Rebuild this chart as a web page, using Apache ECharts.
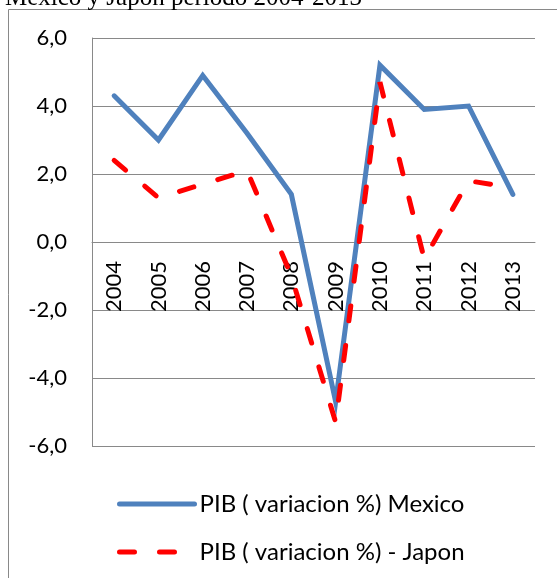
<!DOCTYPE html>
<html>
<head>
<meta charset="utf-8">
<script src="https://cdn.jsdelivr.net/npm/echarts@6/dist/echarts.min.js"></script>
<style>
  html, body { margin: 0; padding: 0; background: #fff; }
  #chart { width: 557px; height: 578px; }
</style>
</head>
<body>
<div id="chart"></div>
<script>
const years = ['2004', '2005', '2006', '2007', '2008', '2009', '2010', '2011', '2012', '2013']
const mexico = [4.3, 3.0, 4.9, 3.2, 1.4, -4.7, 5.2, 3.9, 4.0, 1.4]
const japon = [2.4, 1.3, 1.7, 2.1, -1.0, -5.3, 4.7, -0.5, 1.8, 1.6]

const mexicoName = 'PIB ( variacion %) Mexico'
const japonName = 'PIB ( variacion %) - Japon'
const titleText = 'Mexico y Japon periodo 2004-2013'

const font = 'Lato'
const gridColor = '#898989'

const chart = echarts.init(document.getElementById('chart'))

const option = {
  backgroundColor: '#fff',
  animation: false,
  graphic: [
    {
      type: 'rect',
      shape: { x: 8.5, y: 9.5, width: 600, height: 600 },
      style: { fill: 'none', stroke: gridColor, lineWidth: 1 },
      silent: true
    },
    {
      type: 'text',
      x: 5,
      y: 11,
      style: {
        text: titleText,
        font: '25px "Liberation Serif"',
        fill: '#000',
        verticalAlign: 'bottom'
      },
      silent: true
    }
  ],
  grid: {
    left: 92,
    right: 22,
    top: 38,
    bottom: 132,
    containLabel: false
  },
  legend: {
    orient: 'vertical',
    left: 112,
    top: 487,
    itemWidth: 75,
    itemHeight: 14,
    itemGap: 24,
    itemStyle: { opacity: 0 },
    lineStyle: { width: 5 },
    textStyle: { fontFamily: font, fontSize: 24, color: '#000' },
    data: [mexicoName, japonName]
  },
  xAxis: {
    type: 'category',
    data: years,
    boundaryGap: true,
    // category labels sit on the zero line
    offset: -204,
    axisLine: { onZero: false, lineStyle: { color: gridColor, width: 1 } },
    axisTick: { show: false },
    axisLabel: {
      rotate: 90,
      margin: 19,
      fontFamily: font,
      fontSize: 22,
      color: '#000'
    }
  },
  yAxis: {
    type: 'value',
    min: -6,
    max: 6,
    interval: 2,
    axisLine: { show: true, lineStyle: { color: gridColor, width: 1 } },
    axisTick: { show: false },
    splitLine: { lineStyle: { color: gridColor, width: 1 } },
    axisLabel: {
      margin: 25,
      fontFamily: font,
      fontSize: 22,
      color: '#000',
      formatter: v => v.toFixed(1).replace('.', ',')
    }
  },
  series: [
    {
      name: mexicoName,
      type: 'line',
      data: mexico,
      symbol: 'none',
      lineStyle: { color: '#4F81BD', width: 5, cap: 'round', join: 'miter' },
      itemStyle: { color: '#4F81BD' }
    },
    {
      name: japonName,
      type: 'line',
      data: japon,
      symbol: 'none',
      lineStyle: { color: '#FF0000', width: 5, type: [15, 25], cap: 'round' },
      itemStyle: { color: '#FF0000' }
    }
  ]
}

chart.setOption(option)
</script>
</body>
</html>
